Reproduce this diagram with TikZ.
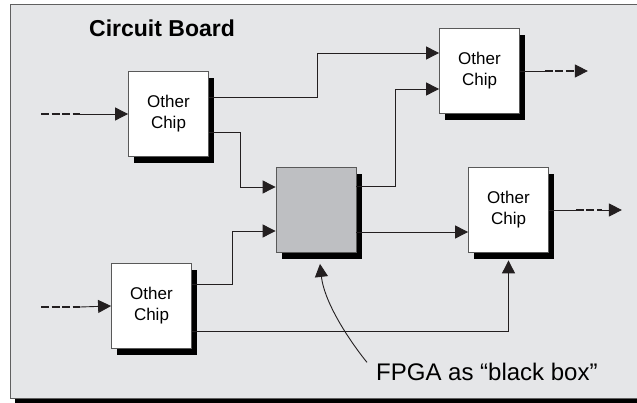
\documentclass[tikz,border=0pt]{standalone}
\usepackage{fontspec}
\setmainfont{Liberation Sans}
\usetikzlibrary{arrows.meta,shadows}
\definecolor{board}{RGB}{229,230,232}
\definecolor{fpgagray}{RGB}{190,191,194}
\definecolor{wire}{RGB}{35,31,32}

\begin{document}
\begin{tikzpicture}[x=1pt,y=-1pt,
    chip/.style={rectangle,draw=gray!70!black,fill=white,line width=0.8pt,
                 minimum width=80pt,minimum height=85pt,inner sep=0pt,
                 align=center,font=\fontsize{17}{21}\selectfont,
                 drop shadow={shadow xshift=5.5pt,shadow yshift=-6.5pt,fill=black,opacity=1}},
    fpga/.style={chip,fill=fpgagray},
    ln/.style={wire,line width=0.9pt},
    ar/.style={-{Triangle[length=13pt,width=13pt]},ln},
    dsh/.style={wire,line width=1.3pt,dash pattern=on 8pt off 2.5pt}]
    \useasboundingbox (0,0) rectangle (637,403);
    \clip (0,0) rectangle (637,403);
    % board
    \fill[black] (15,390) rectangle (660,410);
    \draw[draw=gray!75!black,fill=board,line width=1pt] (10,5) rectangle (660,398.5);
    \node[font=\bfseries\fontsize{23}{27}\selectfont,anchor=base west,inner sep=0pt] (ttl) at (89,37) {Circuit Board};
    % chips
    \node[chip] (A) at (168.5,114) {Other\\Chip};
    \node[chip] (B) at (479.5,71) {Other\\Chip};
    \node[chip] (C) at (508.5,210) {Other\\Chip};
    \node[chip] (D) at (151.5,306) {Other\\Chip};
    \node[fpga] (F) at (316,210) {};
    \node[font=\fontsize{24}{28}\selectfont,anchor=base west,inner sep=0pt] (lbl) at (376,380) {FPGA as “black box”};
    % inputs from off board
    \coordinate (inA) at (41,114);
    \coordinate (inD) at (41,307);
    \draw[dsh] (inA) -- ++(39,0) coordinate (inA2);
    \draw[ar] (inA2) -- (A.west);
    \draw[dsh] (inD) -- ++(39,0) coordinate (inD2);
    \draw[ar] (inD2) -- (D.west);
    % wiring
    \draw[ar] ([yshift=17pt]A.east) -- ++(109,0) |- ([yshift=18pt]B.west);
    \draw[ar] ([yshift=-18pt]A.east) -- ++(32,0) |- ([yshift=23pt]F.west);
    \draw[ar] ([yshift=22pt]D.east) -- ++(41,0) |- ([yshift=-21pt]F.west);
    \draw[ar] ([yshift=-25pt]D.east) -| ([yshift=-7.5pt]C.south);
    \draw[ar] ([yshift=24pt]F.east) -- ++(39,0) |- ([yshift=-18pt]B.west);
    \draw[ar] ([yshift=-22pt]F.east) -- ([yshift=-22pt]C.west);
    % outputs leaving the board
    \draw[ln] (B.east) -- ++(25,0) coordinate (outB);
    \draw[dsh] (outB) -- ++(30,0) coordinate (outB2);
    \draw[ar] (outB2) -- ++(13,0);
    \draw[ln] (C.east) -- ++(27,0) coordinate (outC);
    \draw[dsh] (outC) -- ++(26,0) coordinate (outC2);
    \draw[ar] (outC2) -- ++(20,0);
    % pointer to the fpga
    \draw[ar] ([xshift=-9pt]lbl.north west) .. controls (345,335) and (324,300) .. ([xshift=4pt,yshift=-11pt]F.south);
\end{tikzpicture}
\end{document}
